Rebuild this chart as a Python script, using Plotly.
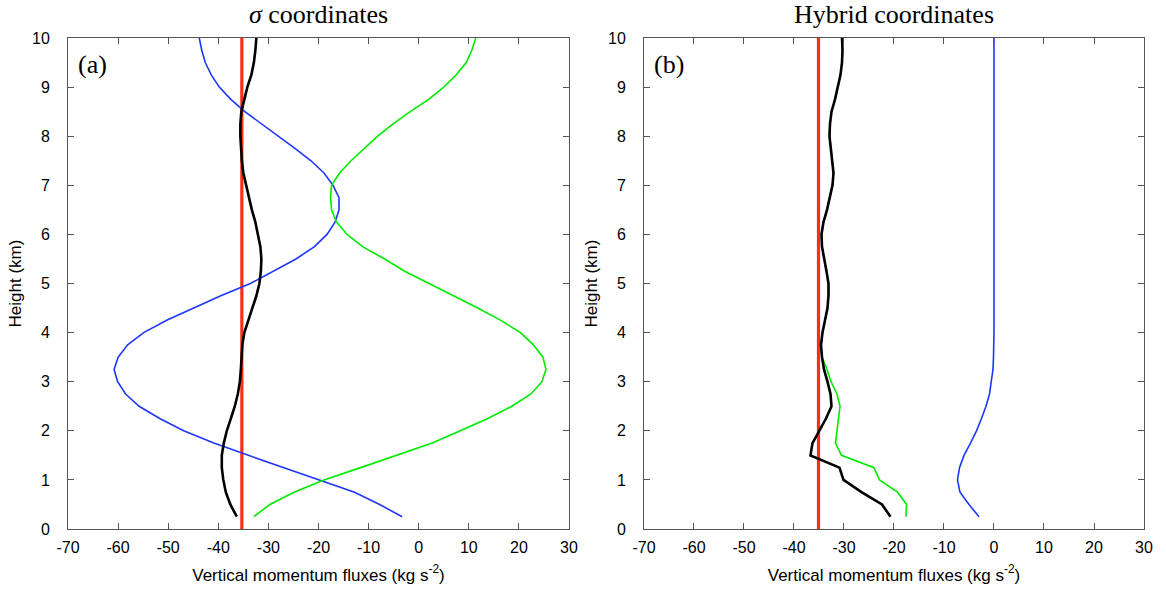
import plotly.graph_objects as go

# ---------------- data ----------------
heights = [0.25, 0.5, 0.75, 1.0, 1.25, 1.5, 1.75, 2.0, 2.25, 2.5, 2.75, 3.0, 3.25, 3.5,
           3.75, 4.0, 4.25, 4.5, 4.75, 5.0, 5.25, 5.5, 5.75, 6.0, 6.25, 6.5, 6.75, 7.0,
           7.25, 7.5, 7.75, 8.0, 8.25, 8.5, 8.75, 9.0, 9.25, 9.5, 9.75, 10.0]

# (a) sigma coordinates
sigma_blue = [-3.3, -7.8, -12.8, -19.9, -27.2, -34.0, -40.9, -46.9, -51.7, -55.8, -58.5, -60.1,
              -60.8, -60.0, -58.1, -54.9, -50.3, -45.0, -39.5, -33.6, -29.2, -24.5, -20.8, -18.3,
              -16.7, -15.9, -15.9, -17.1, -18.9, -21.5, -24.7, -28.0, -31.4, -34.7, -37.5, -39.8,
              -41.4, -42.6, -43.3, -43.8]
sigma_green = [-32.9, -29.7, -24.9, -18.9, -11.6, -4.6, 2.7, 8.3, 13.8, 18.6, 22.4, 24.6,
               25.4, 24.8, 22.9, 20.3, 16.4, 11.8, 6.9, 2.0, -2.8, -6.8, -11.2, -14.3,
               -16.4, -17.4, -17.6, -17.4, -15.8, -13.5, -10.9, -8.2, -5.1, -1.7, 2.0, 5.0,
               7.5, 9.5, 10.6, 11.4]
sigma_black = [-36.3, -37.6, -38.5, -39.0, -39.3, -39.3, -38.9, -38.3, -37.5, -36.7, -36.1, -35.7,
               -35.5, -35.4, -35.2, -34.8, -34.0, -33.1, -32.4, -31.8, -31.5, -31.4, -31.6, -32.1,
               -32.6, -33.3, -33.9, -34.5, -35.0, -35.3, -35.5, -35.6, -35.6, -35.4, -34.8, -34.2,
               -33.4, -32.9, -32.6, -32.4]
sigma_ref = -35.3

# (b) hybrid coordinates
hybrid_blue = [-3.0, -5.0, -6.8, -7.3, -6.9, -6.0, -4.7, -3.5, -2.5, -1.6, -0.9, -0.5,
               -0.2, -0.1, 0.0, 0.0, 0.0, 0.0, 0.0, 0.0, 0.0, 0.0, 0.0, 0.0,
               0.0, 0.0, 0.0, 0.0, 0.0, 0.0, 0.0, 0.0, 0.0, 0.0, 0.0, 0.0,
               0.0, 0.0, 0.0, 0.0]
hybrid_black = [-20.7, -22.4, -26.5, -30.1, -30.9, -36.7, -36.3, -34.9, -33.6, -32.5, -32.7, -33.3,
                -34.0, -34.4, -34.6, -34.3, -33.8, -33.3, -33.1, -33.1, -33.5, -33.9, -34.4, -34.5,
                -34.1, -33.4, -32.9, -32.3, -32.1, -32.4, -32.7, -32.9, -32.8, -32.5, -31.8, -31.2,
                -30.7, -30.4, -30.3, -30.4]
hybrid_green = [-17.6, -17.5, -19.3, -22.9, -24.0, -30.5, -31.7, -31.4, -31.1, -30.8, -31.4, -32.6,
                -33.4, -34.4, -34.6, -34.3, -33.8, -33.3, -33.1, -33.1, -33.5, -33.9, -34.4, -34.5,
                -34.1, -33.4, -32.9, -32.3, -32.1, -32.4, -32.7, -32.9, -32.8, -32.5, -31.8, -31.2,
                -30.7, -30.4, -30.3, -30.4]
hybrid_ref = -35.1

panel_titles = ["<i>σ</i> coordinates", "Hybrid coordinates"]
panel_labels = ["(a)", "(b)"]
x_tickvals = [-70, -60, -50, -40, -30, -20, -10, 0, 10, 20, 30]
x_ticktext = ["-70", "-60", "-50", "-40", "-30", "-20", "-10", "0", "10", "20", "30"]
y_tickvals = [0, 1, 2, 3, 4, 5, 6, 7, 8, 9, 10]
x_title = "Vertical momentum fluxes (kg s<sup>-2</sup>)"
y_title = "Height (km)"

# ---------------- styling ----------------
BLUE = "rgb(30,55,255)"
GREEN = "rgb(0,235,0)"
BLACK = "rgb(0,0,0)"
RED = "rgb(255,45,20)"
FRAME = "#555555"
SANS = "Liberation Sans, Arial, sans-serif"
SERIF = "Liberation Serif, Times New Roman, serif"

fig = go.Figure()

panels = [
    ("x", "y", sigma_ref, sigma_blue, sigma_green, sigma_black),
    ("x2", "y2", hybrid_ref, hybrid_blue, hybrid_green, hybrid_black),
]
for xa, ya, ref, blue, green, black in panels:
    fig.add_trace(go.Scatter(x=[ref, ref], y=[y_tickvals[0], y_tickvals[-1]], mode="lines",
                             line=dict(color=RED, width=3.2), xaxis=xa, yaxis=ya,
                             showlegend=False, hoverinfo="skip"))
    fig.add_trace(go.Scatter(x=blue, y=heights, mode="lines",
                             line=dict(color=BLUE, width=1.6), xaxis=xa, yaxis=ya,
                             showlegend=False))
    fig.add_trace(go.Scatter(x=green, y=heights, mode="lines",
                             line=dict(color=GREEN, width=1.6), xaxis=xa, yaxis=ya,
                             showlegend=False))
    fig.add_trace(go.Scatter(x=black, y=heights, mode="lines",
                             line=dict(color=BLACK, width=2.6), xaxis=xa, yaxis=ya,
                             showlegend=False))

axis_common = dict(showline=True, linecolor=FRAME, linewidth=1, mirror="ticks",
                   ticks="inside", ticklen=6, tickcolor=FRAME, tickwidth=1,
                   showgrid=False, zeroline=False,
                   tickfont=dict(family=SANS, size=16, color="black"))

xcommon = dict(axis_common, range=[-70, 30], tickvals=x_tickvals, ticktext=x_ticktext,
               ticklabelstandoff=4,
               title=dict(text=x_title, font=dict(family=SANS, size=17, color="black"),
                          standoff=13))
ycommon = dict(axis_common, range=[0, 10], tickvals=y_tickvals, ticklabelstandoff=14,
               title=dict(text=y_title, font=dict(family=SANS, size=17, color="black"),
                          standoff=6))

fig.update_layout(
    width=1166, height=590,
    margin=dict(l=68, r=22, t=38, b=61, autoexpand=False),
    paper_bgcolor="white", plot_bgcolor="white",
    xaxis=dict(xcommon, domain=[0, 0.4656], anchor="y"),
    yaxis=dict(ycommon, domain=[0, 1], anchor="x"),
    xaxis2=dict(xcommon, domain=[0.5353, 1], anchor="y2"),
    yaxis2=dict(ycommon, domain=[0, 1], anchor="x2"),
    showlegend=False,
)

centers = [0.4656 / 2, (0.5353 + 1) / 2]
for c, t in zip(centers, panel_titles):
    fig.add_annotation(x=c, y=1, xref="paper", yref="paper", yshift=24,
                       text=t, showarrow=False, xanchor="center", yanchor="middle",
                       font=dict(family=SERIF, size=26, color="black"))

for xa, lab in zip(["x", "x2"], panel_labels):
    fig.add_annotation(x=0.016, y=0.947, xref=f"{xa} domain", yref="y domain",
                       text=lab, showarrow=False, xanchor="left", yanchor="middle",
                       font=dict(family=SERIF, size=26, color="black"))

fig.write_html("out.html", config={"displayModeBar": False},
               post_script="document.body.style.margin='0';")
